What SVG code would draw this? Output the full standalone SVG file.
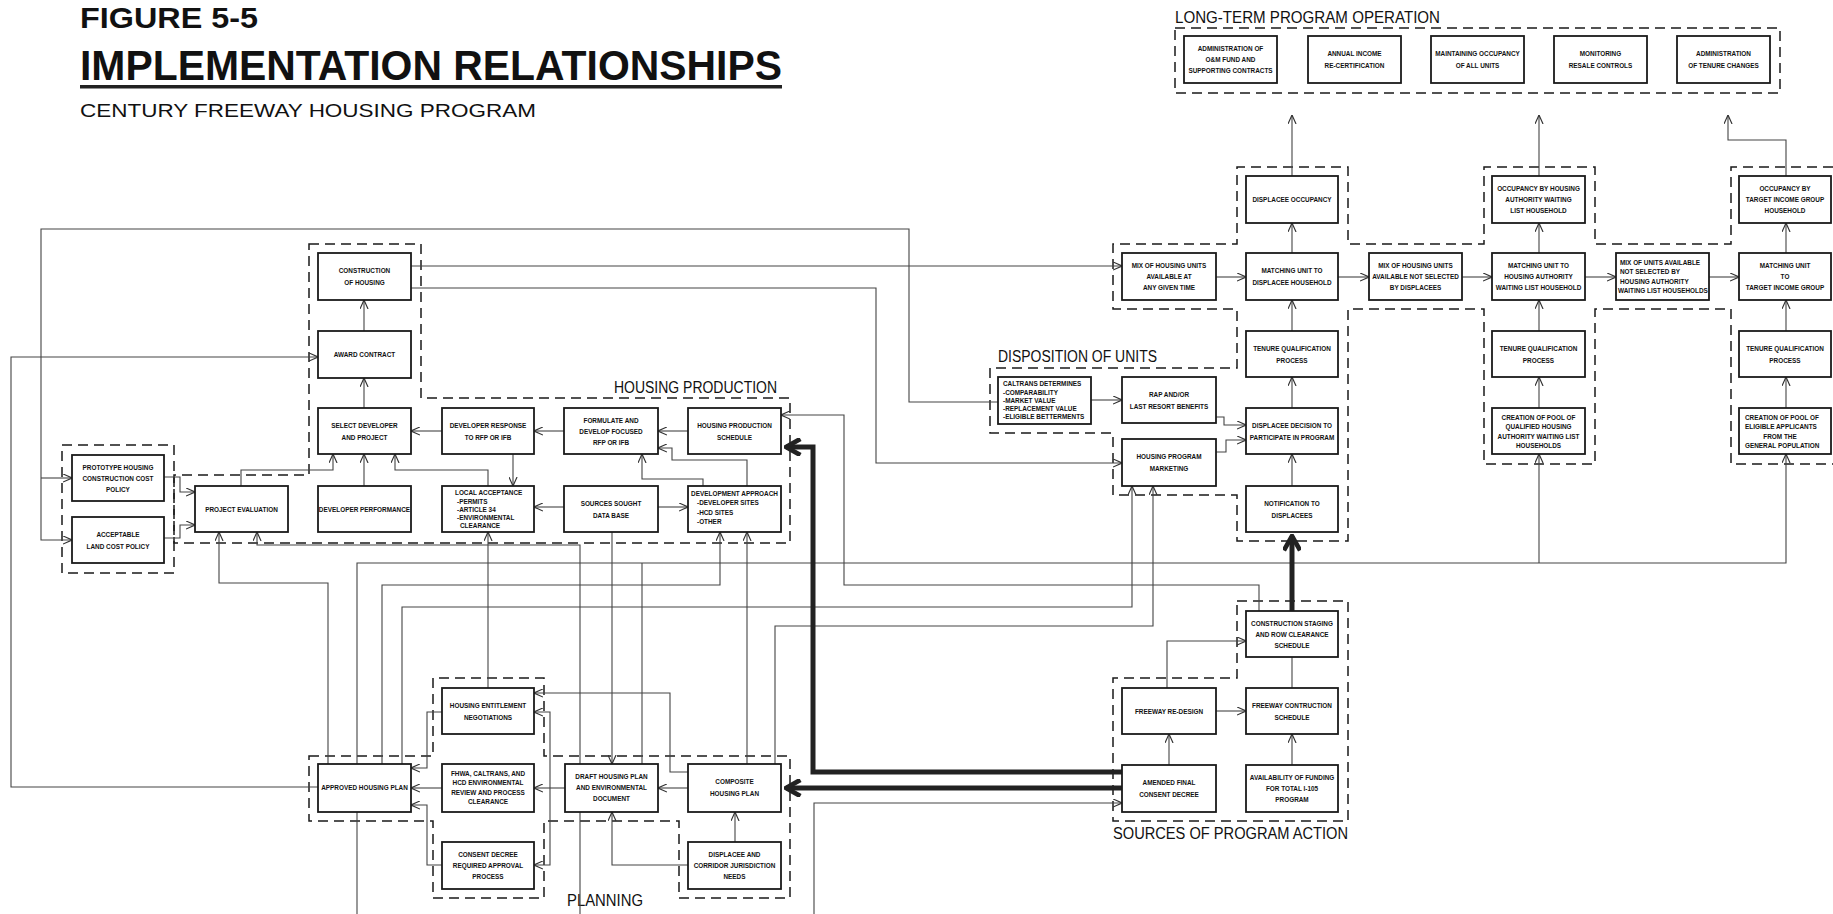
<svg xmlns="http://www.w3.org/2000/svg" width="1833" height="914" viewBox="0 0 1833 914">
<defs>
<style>
.bx{fill:#fff;stroke:#1a1a1a;stroke-width:1.8}
.dz{fill:none;stroke:#1a1a1a;stroke-width:1.5;stroke-dasharray:10 6}
.ln{fill:none;stroke:#444;stroke-width:1.1}
.tk{fill:none;stroke:#222;stroke-width:5}
.t{font-family:"Liberation Sans",Arial,sans-serif;font-weight:bold;font-size:6.4px;fill:#111;text-anchor:middle}
.tl{font-family:"Liberation Sans",Arial,sans-serif;font-weight:bold;font-size:6.4px;fill:#111;text-anchor:start}
.hd{font-family:"Liberation Sans",Arial,sans-serif;font-size:16px;fill:#111}
</style>
<marker id="a" viewBox="0 0 10 10" refX="10" refY="5" markerWidth="9" markerHeight="9" markerUnits="userSpaceOnUse" orient="auto"><path d="M0,0.5 L10,5 L0,9.5" fill="none" stroke="#333" stroke-width="1.3"/></marker>
<marker id="A" viewBox="0 0 10 10" refX="9" refY="5" markerWidth="18" markerHeight="18" markerUnits="userSpaceOnUse" orient="auto"><path d="M1,0.5 L9,5 L1,9.5" fill="none" stroke="#222" stroke-width="2.6"/></marker>
</defs>
<rect width="1833" height="914" fill="#fff"/>

<g id="title">
<text x="80" y="28" font-family="Liberation Sans,Arial,sans-serif" font-weight="bold" font-size="30" textLength="178" lengthAdjust="spacingAndGlyphs" fill="#111">FIGURE 5-5</text>
<text x="80" y="80" font-family="Liberation Sans,Arial,sans-serif" font-weight="bold" font-size="42" textLength="702" lengthAdjust="spacingAndGlyphs" fill="#111">IMPLEMENTATION  RELATIONSHIPS</text>
<rect x="80" y="85" width="702" height="3.5" fill="#222"/>
<text x="80" y="117" font-family="Liberation Sans,Arial,sans-serif" font-size="18" textLength="456" lengthAdjust="spacingAndGlyphs" fill="#111">CENTURY  FREEWAY  HOUSING  PROGRAM</text>
</g>

<g id="groups">
<rect class="dz" x="1175" y="28" width="605" height="65"/>
<path class="dz" d="M62,445 H174 V573 H62 Z"/>
<path class="dz" d="M309,244 H421 V398 H790 V543 H174 V475 H309 Z"/>
<path class="dz" d="M1833,167 H1731 V244 H1595 V167 H1484 V244 H1348 V167 H1237 V244 H1113 V309 H1237 V368 H990 V433 H1113 V495 H1237 V541 H1348 V309 H1484 V464 H1595 V309 H1731 V464 H1833"/>
<path class="dz" d="M1237,601 H1348 V821 H1113 V678 H1237 Z"/>
<path class="dz" d="M309,756 H433 V678 H544 V756 H790 V898 H679 V821 H544 V898 H433 V821 H309 Z"/>
<text class="hd" x="1175" y="23" font-size="15" textLength="265" lengthAdjust="spacingAndGlyphs">LONG-TERM  PROGRAM  OPERATION</text>
<text class="hd" x="614" y="393" font-size="17" textLength="163" lengthAdjust="spacingAndGlyphs">HOUSING PRODUCTION</text>
<text class="hd" x="998" y="362" font-size="17" textLength="159" lengthAdjust="spacingAndGlyphs">DISPOSITION OF UNITS</text>
<text class="hd" x="1113" y="839" font-size="16" textLength="235" lengthAdjust="spacingAndGlyphs">SOURCES OF PROGRAM ACTION</text>
<text class="hd" x="567" y="906" font-size="16" textLength="76" lengthAdjust="spacingAndGlyphs">PLANNING</text>
</g>

<g id="connectors">
<path class="ln" d="M998,402 H909 V229 H41 V540 H72" marker-end="url(#a)"/>
<path class="ln" d="M41,478 H72" marker-end="url(#a)"/>
<path class="ln" d="M318,787 H11 V357 H318" marker-end="url(#a)"/>
<path class="ln" d="M411,266 H1122" marker-end="url(#a)"/>
<path class="ln" d="M411,288 H876 V463 H1122" marker-end="url(#a)"/>
<path class="ln" d="M164,477 H180 V492 H195" marker-end="url(#a)"/>
<path class="ln" d="M164,538 H180 V525 H195" marker-end="url(#a)"/>
<path class="ln" d="M241,486 V470 H333 V454" marker-end="url(#a)"/>
<path class="ln" d="M364,486 V454" marker-end="url(#a)"/>
<path class="ln" d="M364,408 V378" marker-end="url(#a)"/>
<path class="ln" d="M364,331 V300" marker-end="url(#a)"/>
<path class="ln" d="M442,431 H411" marker-end="url(#a)"/>
<path class="ln" d="M564,431 H534" marker-end="url(#a)"/>
<path class="ln" d="M688,431 H658" marker-end="url(#a)"/>
<path class="ln" d="M513,454 V486" marker-end="url(#a)"/>
<path class="ln" d="M488,486 V470 H395 V454" marker-end="url(#a)"/>
<path class="ln" d="M564,507 H534" marker-end="url(#a)"/>
<path class="ln" d="M658,507 H688" marker-end="url(#a)"/>
<path class="ln" d="M703,486 V479 H642 V454" marker-end="url(#a)"/>
<path class="ln" d="M747,486 V460 H672 V448 H658" marker-end="url(#a)"/>
<path class="ln" d="M328,764 V583 H219 V532" marker-end="url(#a)"/>
<path class="ln" d="M580,914 V545 H257 V532" marker-end="url(#a)"/>
<path class="ln" d="M357,764 V563 H1786 V454" marker-end="url(#a)"/>
<path class="ln" d="M1539,563 V454" marker-end="url(#a)"/>
<path class="ln" d="M642,563 V764"/>
<path class="ln" d="M357,812 V914"/>
<path class="ln" d="M382,764 V585 H720 V532" marker-end="url(#a)"/>
<path class="ln" d="M402,764 V607 H1132 V486" marker-end="url(#a)"/>
<path class="ln" d="M775,764 V626 H1153 V486" marker-end="url(#a)"/>
<path class="ln" d="M488,688 V532" marker-end="url(#a)"/>
<path class="ln" d="M612,532 V764" marker-end="url(#a)"/>
<path class="ln" d="M747,764 V532" marker-end="url(#a)"/>
<path class="ln" d="M1259,611 V585 H844 V415 H781" marker-end="url(#a)"/>
<path class="ln" d="M442,712 H427 V768 H411" marker-end="url(#a)"/>
<path class="ln" d="M442,788 H411" marker-end="url(#a)"/>
<path class="ln" d="M442,865 H427 V805 H411" marker-end="url(#a)"/>
<path class="ln" d="M565,788 H534" marker-end="url(#a)"/>
<path class="ln" d="M550,788 V712 H534" marker-end="url(#a)"/>
<path class="ln" d="M550,788 V865 H534" marker-end="url(#a)"/>
<path class="ln" d="M688,772 H670 V693 H534" marker-end="url(#a)"/>
<path class="ln" d="M688,788 H658" marker-end="url(#a)"/>
<path class="ln" d="M735,842 V812" marker-end="url(#a)"/>
<path class="ln" d="M688,865 H612 V812" marker-end="url(#a)"/>
<path class="tk" d="M1122,788 H786" marker-end="url(#A)"/>
<path class="tk" d="M1122,772 H813 V447 H786" marker-end="url(#A)"/>
<path class="tk" d="M1292,611 V536" marker-end="url(#A)"/>
<path class="ln" d="M814,914 V803 H1122" marker-end="url(#a)"/>
<path class="ln" d="M1169,765 V734" marker-end="url(#a)"/>
<path class="ln" d="M1292,765 V734" marker-end="url(#a)"/>
<path class="ln" d="M1216,711 H1246" marker-end="url(#a)"/>
<path class="ln" d="M1292,688 V657"/>
<path class="ln" d="M1167,688 V641 H1246" marker-end="url(#a)"/>
<path class="ln" d="M1091,400 H1122" marker-end="url(#a)"/>
<path class="ln" d="M1216,417 H1224 V425 H1246" marker-end="url(#a)"/>
<path class="ln" d="M1216,452 H1226 V440 H1246" marker-end="url(#a)"/>
<path class="ln" d="M1292,486 V454" marker-end="url(#a)"/>
<path class="ln" d="M1292,408 V377" marker-end="url(#a)"/>
<path class="ln" d="M1292,331 V300" marker-end="url(#a)"/>
<path class="ln" d="M1292,253 V223" marker-end="url(#a)"/>
<path class="ln" d="M1292,176 V115" marker-end="url(#a)"/>
<path class="ln" d="M1216,277 H1246" marker-end="url(#a)"/>
<path class="ln" d="M1338,277 H1369" marker-end="url(#a)"/>
<path class="ln" d="M1462,277 H1492" marker-end="url(#a)"/>
<path class="ln" d="M1585,277 H1616" marker-end="url(#a)"/>
<path class="ln" d="M1709,277 H1739" marker-end="url(#a)"/>
<path class="ln" d="M1539,408 V377" marker-end="url(#a)"/>
<path class="ln" d="M1539,331 V300" marker-end="url(#a)"/>
<path class="ln" d="M1539,253 V223" marker-end="url(#a)"/>
<path class="ln" d="M1539,176 V115" marker-end="url(#a)"/>
<path class="ln" d="M1786,408 V377" marker-end="url(#a)"/>
<path class="ln" d="M1786,331 V300" marker-end="url(#a)"/>
<path class="ln" d="M1786,253 V223" marker-end="url(#a)"/>
<path class="ln" d="M1786,176 V140 H1728 V115" marker-end="url(#a)"/>
</g>

<g id="lt1"><rect class="bx" x="1184" y="36" width="93" height="47"/><text class="t"><tspan x="1230.5" y="50.8">ADMINISTRATION OF</tspan><tspan x="1230.5" y="61.8">O&amp;M FUND AND</tspan><tspan x="1230.5" y="72.8">SUPPORTING CONTRACTS</tspan></text></g>
<g id="lt2"><rect class="bx" x="1308" y="36" width="93" height="47"/><text class="t"><tspan x="1354.5" y="55.8">ANNUAL INCOME</tspan><tspan x="1354.5" y="67.8">RE-CERTIFICATION</tspan></text></g>
<g id="lt3"><rect class="bx" x="1431" y="36" width="93" height="47"/><text class="t"><tspan x="1477.5" y="55.8">MAINTAINING OCCUPANCY</tspan><tspan x="1477.5" y="67.8">OF ALL UNITS</tspan></text></g>
<g id="lt4"><rect class="bx" x="1554" y="36" width="93" height="47"/><text class="t"><tspan x="1600.5" y="55.8">MONITORING</tspan><tspan x="1600.5" y="67.8">RESALE CONTROLS</tspan></text></g>
<g id="lt5"><rect class="bx" x="1677" y="36" width="93" height="47"/><text class="t"><tspan x="1723.5" y="55.8">ADMINISTRATION</tspan><tspan x="1723.5" y="67.8">OF TENURE CHANGES</tspan></text></g>

<g id="proto"><rect class="bx" x="72" y="455" width="92" height="46"/><text class="t"><tspan x="118" y="469.8">PROTOTYPE HOUSING</tspan><tspan x="118" y="480.8">CONSTRUCTION COST</tspan><tspan x="118" y="491.8">POLICY</tspan></text></g>
<g id="accept"><rect class="bx" x="72" y="517" width="92" height="46"/><text class="t"><tspan x="118" y="536.8">ACCEPTABLE</tspan><tspan x="118" y="548.8">LAND COST POLICY</tspan></text></g>
<g id="projeval"><rect class="bx" x="195" y="486" width="93" height="46"/><text class="t"><tspan x="241.5" y="511.8">PROJECT EVALUATION</tspan></text></g>
<g id="construction"><rect class="bx" x="318" y="253" width="93" height="47"/><text class="t"><tspan x="364.5" y="272.8">CONSTRUCTION</tspan><tspan x="364.5" y="284.8">OF HOUSING</tspan></text></g>
<g id="award"><rect class="bx" x="318" y="331" width="93" height="47"/><text class="t"><tspan x="364.5" y="356.8">AWARD CONTRACT</tspan></text></g>
<g id="select"><rect class="bx" x="318" y="408" width="93" height="46"/><text class="t"><tspan x="364.5" y="427.8">SELECT DEVELOPER</tspan><tspan x="364.5" y="439.8">AND PROJECT</tspan></text></g>
<g id="devperf"><rect class="bx" x="318" y="486" width="93" height="46"/><text class="t"><tspan x="364.5" y="511.8">DEVELOPER PERFORMANCE</tspan></text></g>
<g id="devresp"><rect class="bx" x="442" y="408" width="92" height="46"/><text class="t"><tspan x="488" y="427.8">DEVELOPER RESPONSE</tspan><tspan x="488" y="439.8">TO RFP OR IFB</tspan></text></g>
<g id="localacc"><rect class="bx" x="442" y="486" width="92" height="46"/><text class="tl"><tspan x="455" y="495.2">LOCAL ACCEPTANCE</tspan><tspan x="457" y="503.5">-PERMITS</tspan><tspan x="457" y="511.8">-ARTICLE 34</tspan><tspan x="457" y="520.1">-ENVIRONMENTAL</tspan><tspan x="460" y="528.4">CLEARANCE</tspan></text></g>
<g id="formulate"><rect class="bx" x="564" y="408" width="94" height="46"/><text class="t"><tspan x="611" y="422.8">FORMULATE AND</tspan><tspan x="611" y="433.8">DEVELOP FOCUSED</tspan><tspan x="611" y="444.8">RFP OR IFB</tspan></text></g>
<g id="sources"><rect class="bx" x="564" y="486" width="94" height="46"/><text class="t"><tspan x="611" y="505.8">SOURCES SOUGHT</tspan><tspan x="611" y="517.8">DATA BASE</tspan></text></g>
<g id="hpsched"><rect class="bx" x="688" y="408" width="93" height="46"/><text class="t"><tspan x="734.5" y="427.8">HOUSING PRODUCTION</tspan><tspan x="734.5" y="439.8">SCHEDULE</tspan></text></g>
<g id="devapp"><rect class="bx" x="688" y="486" width="93" height="46"/><text class="t"><tspan x="734.5" y="495.5">DEVELOPMENT APPROACH</tspan></text><text class="tl"><tspan x="697" y="505">-DEVELOPER SITES</tspan><tspan x="697" y="514.5">-HCD SITES</tspan><tspan x="697" y="524">-OTHER</tspan></text></g>

<g id="approved"><rect class="bx" x="318" y="764" width="93" height="48"/><text class="t"><tspan x="364.5" y="790">APPROVED HOUSING PLAN</tspan></text></g>
<g id="entitle"><rect class="bx" x="442" y="688" width="92" height="46"/><text class="t"><tspan x="488" y="707.8">HOUSING ENTITLEMENT</tspan><tspan x="488" y="719.8">NEGOTIATIONS</tspan></text></g>
<g id="fhwa"><rect class="bx" x="442" y="764" width="92" height="48"/><text class="t"><tspan x="488" y="775.5">FHWA, CALTRANS, AND</tspan><tspan x="488" y="785">HCD ENVIRONMENTAL</tspan><tspan x="488" y="794.5">REVIEW AND PROCESS</tspan><tspan x="488" y="804">CLEARANCE</tspan></text></g>
<g id="consent"><rect class="bx" x="442" y="842" width="92" height="47"/><text class="t"><tspan x="488" y="856.8">CONSENT DECREE</tspan><tspan x="488" y="867.8">REQUIRED APPROVAL</tspan><tspan x="488" y="878.8">PROCESS</tspan></text></g>
<g id="draft"><rect class="bx" x="565" y="764" width="93" height="48"/><text class="t"><tspan x="611.5" y="778.8">DRAFT HOUSING PLAN</tspan><tspan x="611.5" y="789.8">AND ENVIRONMENTAL</tspan><tspan x="611.5" y="800.8">DOCUMENT</tspan></text></g>
<g id="composite"><rect class="bx" x="688" y="764" width="93" height="48"/><text class="t"><tspan x="734.5" y="783.8">COMPOSITE</tspan><tspan x="734.5" y="795.8">HOUSING PLAN</tspan></text></g>
<g id="dispcorr"><rect class="bx" x="688" y="842" width="93" height="47"/><text class="t"><tspan x="734.5" y="856.8">DISPLACEE AND</tspan><tspan x="734.5" y="867.8">CORRIDOR JURISDICTION</tspan><tspan x="734.5" y="878.8">NEEDS</tspan></text></g>

<g id="staging"><rect class="bx" x="1246" y="611" width="92" height="46"/><text class="t"><tspan x="1292" y="625.8">CONSTRUCTION STAGING</tspan><tspan x="1292" y="636.8">AND ROW CLEARANCE</tspan><tspan x="1292" y="647.8">SCHEDULE</tspan></text></g>
<g id="redesign"><rect class="bx" x="1122" y="688" width="94" height="46"/><text class="t"><tspan x="1169" y="713.8">FREEWAY RE-DESIGN</tspan></text></g>
<g id="fwcons"><rect class="bx" x="1246" y="688" width="92" height="46"/><text class="t"><tspan x="1292" y="707.8">FREEWAY CONTRUCTION</tspan><tspan x="1292" y="719.8">SCHEDULE</tspan></text></g>
<g id="amended"><rect class="bx" x="1122" y="765" width="94" height="47"/><text class="t"><tspan x="1169" y="784.8">AMENDED FINAL</tspan><tspan x="1169" y="796.8">CONSENT DECREE</tspan></text></g>
<g id="funding"><rect class="bx" x="1246" y="765" width="92" height="47"/><text class="t"><tspan x="1292" y="779.8">AVAILABILITY OF FUNDING</tspan><tspan x="1292" y="790.8">FOR TOTAL I-105</tspan><tspan x="1292" y="801.8">PROGRAM</tspan></text></g>

<g id="docc"><rect class="bx" x="1246" y="176" width="92" height="47"/><text class="t"><tspan x="1292" y="201.8">DISPLACEE OCCUPANCY</tspan></text></g>
<g id="mixany"><rect class="bx" x="1122" y="253" width="94" height="47"/><text class="t"><tspan x="1169" y="267.8">MIX OF HOUSING UNITS</tspan><tspan x="1169" y="278.8">AVAILABLE AT</tspan><tspan x="1169" y="289.8">ANY GIVEN TIME</tspan></text></g>
<g id="dmatch"><rect class="bx" x="1246" y="253" width="92" height="47"/><text class="t"><tspan x="1292" y="272.8">MATCHING UNIT TO</tspan><tspan x="1292" y="284.8">DISPLACEE HOUSEHOLD</tspan></text></g>
<g id="dten"><rect class="bx" x="1246" y="331" width="92" height="46"/><text class="t"><tspan x="1292" y="350.8">TENURE QUALIFICATION</tspan><tspan x="1292" y="362.8">PROCESS</tspan></text></g>
<g id="caltrans"><rect class="bx" x="998" y="377" width="93" height="47"/><text class="tl"><tspan x="1003" y="386.2">CALTRANS DETERMINES</tspan><tspan x="1003" y="394.5">-COMPARABILITY</tspan><tspan x="1003" y="402.8">-MARKET VALUE</tspan><tspan x="1003" y="411.1">-REPLACEMENT  VALUE</tspan><tspan x="1003" y="419.4">-ELIGIBLE BETTERMENTS</tspan></text></g>
<g id="rap"><rect class="bx" x="1122" y="377" width="94" height="46"/><text class="t"><tspan x="1169" y="396.8">RAP AND/OR</tspan><tspan x="1169" y="408.8">LAST RESORT BENEFITS</tspan></text></g>
<g id="ddec"><rect class="bx" x="1246" y="408" width="92" height="46"/><text class="t"><tspan x="1292" y="427.8">DISPLACEE DECISION TO</tspan><tspan x="1292" y="439.8">PARTICIPATE IN PROGRAM</tspan></text></g>
<g id="mkt"><rect class="bx" x="1122" y="439" width="94" height="47"/><text class="t"><tspan x="1169" y="458.8">HOUSING PROGRAM</tspan><tspan x="1169" y="470.8">MARKETING</tspan></text></g>
<g id="dnot"><rect class="bx" x="1246" y="486" width="92" height="46"/><text class="t"><tspan x="1292" y="505.8">NOTIFICATION TO</tspan><tspan x="1292" y="517.8">DISPLACEES</tspan></text></g>
<g id="mixns"><rect class="bx" x="1369" y="253" width="93" height="47"/><text class="t"><tspan x="1415.5" y="267.8">MIX OF HOUSING UNITS</tspan><tspan x="1415.5" y="278.8">AVAILABLE NOT SELECTED</tspan><tspan x="1415.5" y="289.8">BY DISPLACEES</tspan></text></g>
<g id="haocc"><rect class="bx" x="1492" y="176" width="93" height="47"/><text class="t"><tspan x="1538.5" y="190.8">OCCUPANCY BY HOUSING</tspan><tspan x="1538.5" y="201.8">AUTHORITY WAITING</tspan><tspan x="1538.5" y="212.8">LIST HOUSEHOLD</tspan></text></g>
<g id="hamatch"><rect class="bx" x="1492" y="253" width="93" height="47"/><text class="t"><tspan x="1538.5" y="267.8">MATCHING UNIT TO</tspan><tspan x="1538.5" y="278.8">HOUSING AUTHORITY</tspan><tspan x="1538.5" y="289.8">WAITING LIST HOUSEHOLD</tspan></text></g>
<g id="haten"><rect class="bx" x="1492" y="331" width="93" height="46"/><text class="t"><tspan x="1538.5" y="350.8">TENURE QUALIFICATION</tspan><tspan x="1538.5" y="362.8">PROCESS</tspan></text></g>
<g id="hapool"><rect class="bx" x="1492" y="408" width="93" height="46"/><text class="t"><tspan x="1538.5" y="419.5">CREATION OF POOL OF</tspan><tspan x="1538.5" y="429">QUALIFIED  HOUSING</tspan><tspan x="1538.5" y="438.5">AUTHORITY WAITING LIST</tspan><tspan x="1538.5" y="448">HOUSEHOLDS</tspan></text></g>
<g id="mixha"><rect class="bx" x="1616" y="253" width="93" height="47"/><text class="tl"><tspan x="1620" y="264.5">MIX OF UNITS AVAILABLE</tspan><tspan x="1620" y="274">NOT SELECTED BY</tspan><tspan x="1620" y="283.5">HOUSING AUTHORITY</tspan><tspan x="1618" y="293">WAITING LIST HOUSEHOLDS</tspan></text></g>
<g id="tocc"><rect class="bx" x="1739" y="176" width="92" height="47"/><text class="t"><tspan x="1785" y="190.8">OCCUPANCY BY</tspan><tspan x="1785" y="201.8">TARGET INCOME GROUP</tspan><tspan x="1785" y="212.8">HOUSEHOLD</tspan></text></g>
<g id="tmatch"><rect class="bx" x="1739" y="253" width="92" height="47"/><text class="t"><tspan x="1785" y="267.8">MATCHING UNIT</tspan><tspan x="1785" y="278.8">TO</tspan><tspan x="1785" y="289.8">TARGET INCOME GROUP</tspan></text></g>
<g id="tten"><rect class="bx" x="1739" y="331" width="92" height="46"/><text class="t"><tspan x="1785" y="350.8">TENURE QUALIFICATION</tspan><tspan x="1785" y="362.8">PROCESS</tspan></text></g>
<g id="tpool"><rect class="bx" x="1739" y="408" width="92" height="46"/><text class="tl"><tspan x="1745" y="419.5">CREATION OF POOL OF</tspan><tspan x="1745" y="429">ELIGIBLE APPLICANTS</tspan></text><text class="t"><tspan x="1780" y="438.5">FROM THE</tspan></text><text class="tl"><tspan x="1745" y="448">GENERAL POPULATION</tspan></text></g>
</svg>
